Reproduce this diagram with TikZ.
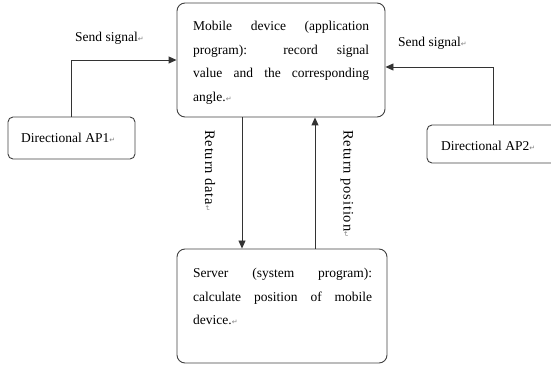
\documentclass[tikz,border=0pt]{standalone}
\usepackage{fontspec}
\setmainfont{Liberation Serif}
\newfontfamily\symf{DejaVu Sans}
\newfontfamily\rotf[LetterSpace=6]{Liberation Serif}
\usetikzlibrary{arrows.meta}
\newcommand\pmk{{\symf\fontsize{7}{7}\selectfont\textcolor{gray}{↵}}}
\newcommand\jl[2]{\makebox[#1][s]{#2}}
\tikzset{
  box/.style={draw=black!75, line width=0.9pt, rounded corners=8pt, inner sep=0pt},
  apbox/.style={draw=black!75, line width=0.9pt, rounded corners=5pt, inner sep=0pt},
  arr/.style={draw=black!80, line width=0.9pt, -{Triangle[length=8pt,width=7pt]}},
  txt/.style={inner sep=0pt, font=\fontsize{13.5}{23.7}\selectfont, align=left},
  rtxt/.style={inner sep=0pt, font=\rotf\fontsize{14.5}{20}\selectfont, rotate=-90, anchor=west},
}
\begin{document}
\begin{tikzpicture}[x=1pt,y=1pt]
\useasboundingbox (0,0) rectangle (551,364);
% boxes
\node[box, minimum width=208pt, minimum height=114pt] (mobile) at (281,304) {};
\node[box, minimum width=210pt, minimum height=114pt] (server) at (282,58) {};
\node[apbox, minimum width=127pt, minimum height=42pt] (ap1) at (71.5,226) {};
\node[apbox, minimum width=132pt, minimum height=38pt] (ap2) at (493,220) {};
% texts
\node[txt, anchor=north west] (mt) at (193,343) {%
  \jl{176pt}{Mobile device (application}\\
  \jl{176pt}{program): record signal}\\
  \jl{176pt}{value and the corresponding}\\
  angle.\pmk};
\node[txt, anchor=north west] (st) at (193,96) {%
  \jl{179pt}{Server (system program):}\\
  \jl{179pt}{calculate position of mobile}\\
  device.\pmk};
\node[txt, anchor=west] (a1t) at (21,226) {Directional AP1\pmk};
\node[txt, anchor=west] (a2t) at (441,218) {Directional AP2\pmk};
\node[txt, anchor=west] (s1) at (75,326) {Send signal\pmk};
\node[txt, anchor=west] (s2) at (398,321) {Send signal\pmk};
% connectors
\draw[arr] (ap1.north) |- (mobile.west);
\draw[arr] (ap2.north) |- ([yshift=-7pt]mobile.east);
\draw[arr] ([xshift=-39pt]mobile.south) -- ([xshift=-39pt]mobile.south |- server.north);
\draw[arr] ([xshift=34pt]mobile.south |- server.north) -- ([xshift=34pt]mobile.south);
\node[rtxt] (rd) at (210,234) {Return data\pmk};
\node[rtxt] (rp) at (347,234) {Return position\pmk};
\end{tikzpicture}
\end{document}
